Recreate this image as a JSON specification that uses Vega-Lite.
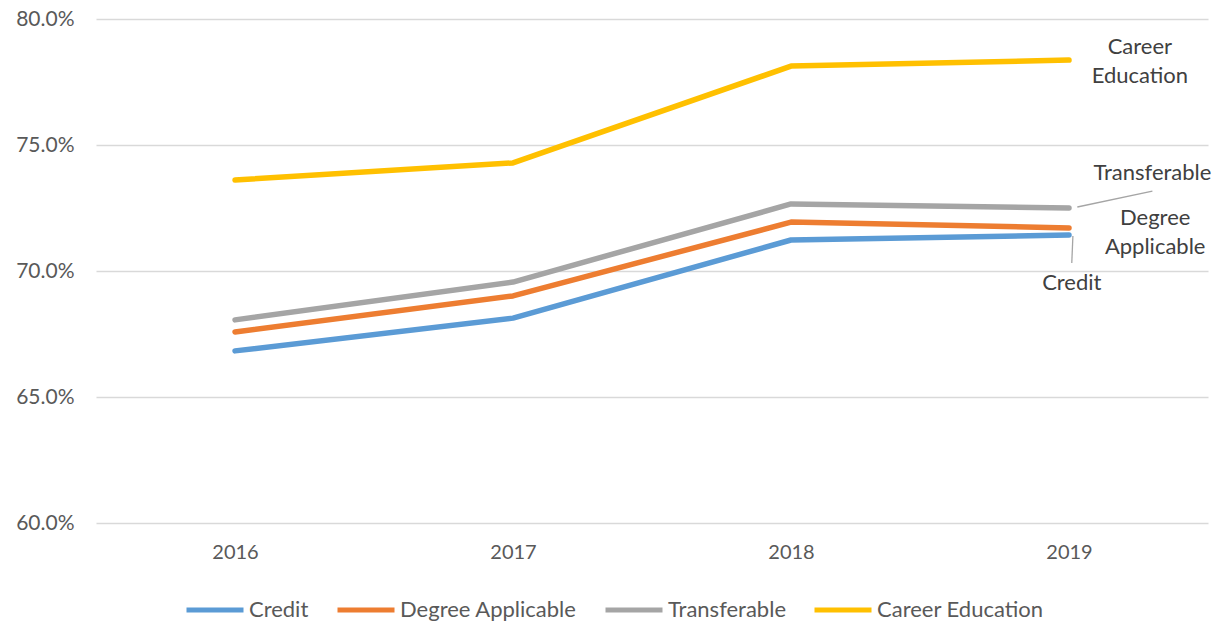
{
  "$schema": "https://vega.github.io/schema/vega-lite/v6.json",
  "autosize": "none",
  "padding": {"left": 96, "top": 19, "right": 15, "bottom": 99},
  "width": 1112,
  "height": 504,
  "background": "white",
  "config": {
    "font": "Lato",
    "view": {"stroke": null},
    "axis": {"labelFont": "Lato", "labelColor": "#595959", "titleFont": "Lato"},
    "legend": {"labelFont": "Lato"}
  },
  "datasets": {
    "series": [
      {"year": 2016, "series": "Credit", "rate": 66.83},
      {"year": 2017, "series": "Credit", "rate": 68.13},
      {"year": 2018, "series": "Credit", "rate": 71.23},
      {"year": 2019, "series": "Credit", "rate": 71.43},
      {"year": 2016, "series": "Degree Applicable", "rate": 67.58},
      {"year": 2017, "series": "Degree Applicable", "rate": 69.01},
      {"year": 2018, "series": "Degree Applicable", "rate": 71.94},
      {"year": 2019, "series": "Degree Applicable", "rate": 71.71},
      {"year": 2016, "series": "Transferable", "rate": 68.06},
      {"year": 2017, "series": "Transferable", "rate": 69.56},
      {"year": 2018, "series": "Transferable", "rate": 72.66},
      {"year": 2019, "series": "Transferable", "rate": 72.50},
      {"year": 2016, "series": "Career Education", "rate": 73.61},
      {"year": 2017, "series": "Career Education", "rate": 74.29},
      {"year": 2018, "series": "Career Education", "rate": 78.13},
      {"year": 2019, "series": "Career Education", "rate": 78.37}
    ],
    "labels": [
      {"label": "Career\nEducation", "lx": 2019.255, "ly": 78.89},
      {"label": "Transferable", "lx": 2019.30, "ly": 73.89},
      {"label": "Degree\nApplicable", "lx": 2019.31, "ly": 72.10},
      {"label": "Credit", "lx": 2019.01, "ly": 69.52}
    ],
    "leaders": [
      {"x1": 2019.03, "y1": 72.54, "x2": 2019.30, "y2": 73.17},
      {"x1": 2019.014, "y1": 71.39, "x2": 2019.01, "y2": 70.32}
    ]
  },
  "layer": [
    {
      "data": {"name": "series"},
      "mark": {"type": "line", "strokeWidth": 5.5, "strokeCap": "round", "strokeJoin": "round"},
      "encoding": {
        "x": {
          "field": "year", "type": "quantitative",
          "scale": {"domain": [2015.5, 2019.5], "nice": false, "zero": false},
          "axis": {"values": [2016, 2017, 2018, 2019], "format": "d", "title": null, "grid": false, "domain": false, "ticks": false, "labelPadding": 19, "labelFontSize": 20}
        },
        "y": {
          "field": "rate", "type": "quantitative",
          "scale": {"domain": [60, 80], "nice": false, "zero": false},
          "axis": {"values": [60, 65, 70, 75, 80], "labelExpr": "format(datum.value, '.1f') + '%'", "title": null, "domain": false, "ticks": false, "labelPadding": 22, "labelFontSize": 21, "gridColor": "#D9D9D9", "gridWidth": 1.3}
        },
        "color": {
          "field": "series", "type": "nominal",
          "scale": {"domain": ["Credit", "Degree Applicable", "Transferable", "Career Education"], "range": ["#5B9BD5", "#ED7D31", "#A5A5A5", "#FFC000"]},
          "legend": {"orient": "none", "legendX": 88, "legendY": 560, "direction": "horizontal", "title": null, "symbolType": "stroke", "symbolSize": 3249, "symbolStrokeWidth": 5, "labelFontSize": 22, "labelColor": "#595959", "labelLimit": 400, "columnPadding": 18, "labelOffset": 3}
        }
      }
    },
    {
      "data": {"name": "leaders"},
      "mark": {"type": "rule", "color": "#A5A5A5", "strokeWidth": 1.3},
      "encoding": {
        "x": {"field": "x1", "type": "quantitative"},
        "y": {"field": "y1", "type": "quantitative"},
        "x2": {"field": "x2"},
        "y2": {"field": "y2"}
      }
    },
    {
      "data": {"name": "labels"},
      "mark": {"type": "text", "fontSize": 22, "color": "#404040", "align": "center", "baseline": "middle", "lineBreak": "\n", "lineHeight": 29},
      "encoding": {
        "x": {"field": "lx", "type": "quantitative"},
        "y": {"field": "ly", "type": "quantitative"},
        "text": {"field": "label"}
      }
    }
  ]
}
